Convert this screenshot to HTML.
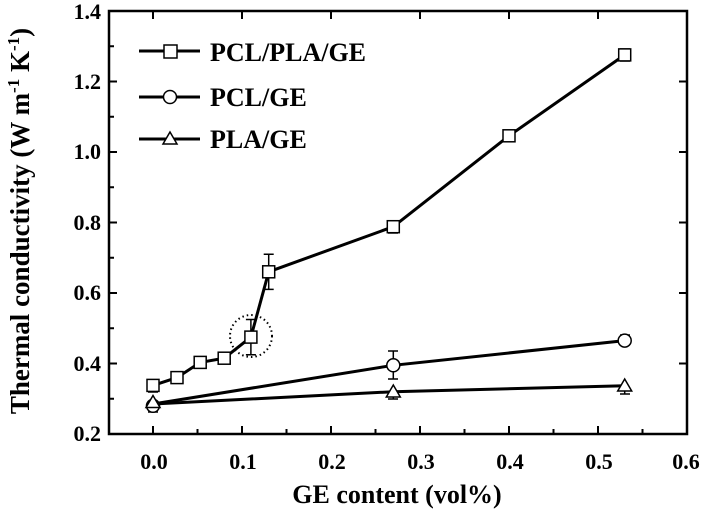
<!DOCTYPE html>
<html><head><style>body{margin:0;background:#fff}</style></head><body>
<svg width="703" height="517" viewBox="0 0 703 517" xmlns="http://www.w3.org/2000/svg" font-family="Liberation Serif, serif" font-weight="bold">
<g stroke="#000" stroke-width="2.5" fill="none">
<rect x="109" y="11" width="578" height="423"/>
</g>
<g stroke="#000" stroke-width="2">
<path d="M153 434v-8M242 434v-8M331 434v-8M420 434v-8M509 434v-8M598 434v-8M687 434v-8M153 11v8M242 11v8M331 11v8M420 11v8M509 11v8M598 11v8"/>
<path d="M197.5 434v-5M286.5 434v-5M375.5 434v-5M464.5 434v-5M553.5 434v-5M642.5 434v-5"/>
<path d="M109 363.5h8M109 293h8M109 222.5h8M109 152h8M109 81.5h8M687 363.5h-8M687 293h-8M687 222.5h-8M687 152h-8M687 81.5h-8"/>
<path d="M109 398.8h5M109 328.3h5M109 257.8h5M109 187.3h5M109 116.8h5M109 46.3h5"/>
</g>
<g font-size="22" text-anchor="middle">
<text x="154" y="469">0.0</text><text x="243" y="469">0.1</text><text x="332" y="469">0.2</text><text x="421" y="469">0.3</text><text x="510" y="469">0.4</text><text x="599" y="469">0.5</text><text x="686" y="469">0.6</text>
</g>
<g font-size="22" text-anchor="end">
<text x="101" y="441">0.2</text><text x="101" y="371">0.4</text><text x="101" y="300">0.6</text><text x="101" y="230">0.8</text><text x="101" y="159">1.0</text><text x="101" y="89">1.2</text><text x="101" y="19">1.4</text>
</g>
<text x="397" y="503" font-size="26" text-anchor="middle">GE content (vol%)</text>
<text transform="translate(29,221) rotate(-90)" font-size="27" text-anchor="middle">Thermal conductivity (W m<tspan dy="-10" font-size="17">-1</tspan><tspan dy="10"> K</tspan><tspan dy="-10" font-size="17">-1</tspan><tspan dy="10">)</tspan></text>
<g stroke="#000" stroke-width="3" fill="none">
<polyline points="153,385.4 177,377.6 200.2,362.4 224.2,358.2 250.9,337.1 268.7,271.8 393.3,226.7 509,135.8 624.7,54.9"/>
<polyline points="153,404 393.3,365.3 624.7,340.6"/>
<polyline points="153,404 393.3,391.7 624.7,385.7"/>
</g>
<g stroke="#000" stroke-width="1.5" fill="none">
<path d="M268.7 254.2v35.2M263.7 254.2h10M263.7 289.4h10"/>
<path d="M250.9 319.5v35.2M245.9 319.5h10M245.9 354.7h10"/>
<path d="M153 380v12M148 380h10M148 392h10"/>
<path d="M393.3 221v12M388 221h10M388 233h10"/>
<path d="M624.7 49v12M620 49h10M620 61h10"/>
<path d="M393.3 351v28M388 351h10M388 379h10"/>
<path d="M624.7 335v11M620 335h10"/>
<path d="M393.3 386v13M388 399h10"/>
<path d="M624.7 380v14M620 394h10"/>
<path d="M153 396v16M148 412h10"/>
</g>
<circle cx="251" cy="336" r="21" fill="none" stroke="#000" stroke-width="2" stroke-dasharray="1.5,3"/>
<g stroke="#000" stroke-width="1.5" fill="#fff">
<rect x="147" y="379.4" width="12" height="12"/><rect x="171" y="371.6" width="12" height="12"/><rect x="194.2" y="356.4" width="12" height="12"/><rect x="218.2" y="352.2" width="12" height="12"/><rect x="244.9" y="331.1" width="12" height="12"/><rect x="262.7" y="265.8" width="12" height="12"/><rect x="387.3" y="220.7" width="12" height="12"/><rect x="503" y="129.8" width="12" height="12"/><rect x="618.7" y="48.9" width="12" height="12"/>
<circle cx="153" cy="405.8" r="6.5"/><circle cx="393.3" cy="365.3" r="6.5"/><circle cx="624.7" cy="340.6" r="6.5"/>
<path d="M153 395.5l7 12h-14z"/><path d="M393.3 385l7 12h-14z"/><path d="M624.7 379l7 12h-14z"/>
</g>
<g stroke="#000" stroke-width="3"><path d="M139 51h61M139 97h61M139 139h61"/></g>
<g stroke="#000" stroke-width="1.5" fill="#fff">
<rect x="164" y="45" width="13" height="13"/><circle cx="170" cy="97" r="6.5"/><path d="M170 132l7 12h-14z"/>
</g>
<g font-size="26"><text x="210" y="61">PCL/PLA/GE</text><text x="210" y="106">PCL/GE</text><text x="210" y="148">PLA/GE</text></g>
</svg>
</body></html>
